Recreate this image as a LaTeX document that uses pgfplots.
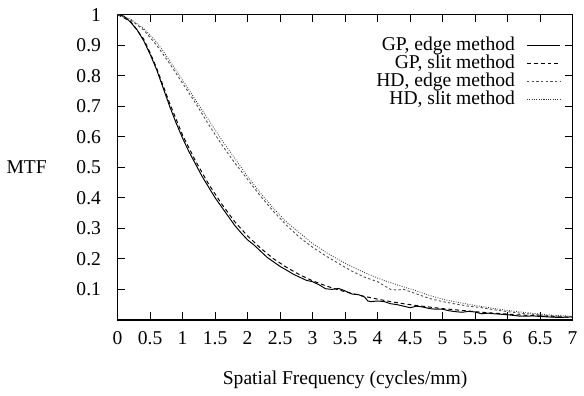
\documentclass[border=0pt]{standalone}
\usepackage{pgfplots}
\pgfplotsset{compat=1.18}
\usepackage{fontspec}
\setmainfont{Liberation Serif}
\begin{document}
\begin{tikzpicture}
\begin{axis}[
  scale only axis, width=232.5pt, height=156pt,
  xmin=0, xmax=7, ymin=0, ymax=1,
  xtick={0,0.5,...,7}, ytick={0.1,0.2,...,1},
  xticklabels={0,0.5,1,1.5,2,2.5,3,3.5,4,4.5,5,5.5,6,6.5,7},
  yticklabels={0.1,0.2,0.3,0.4,0.5,0.6,0.7,0.8,0.9,1},
  tick align=inside, major tick length=4pt,
  tick style={black, line width=0.6pt},
  axis line style={line width=0.7pt},
  /pgf/number format/assume math mode=true,
  font=\fontsize{10}{12}\selectfont,
  xticklabel style={anchor=center, yshift=-9.5pt},
  yticklabel style={anchor=east, xshift=-5pt},
  xlabel={Spatial Frequency (cycles/mm)},
  ylabel={MTF},
  xlabel style={at={(rel axis cs:0.5,0)}, anchor=center, yshift=-30.5pt},
  ylabel style={rotate=-90, at={(rel axis cs:0,0.5)}, anchor=center, xshift=-46.5pt},
  legend plot pos=right,
  legend style={draw=none, fill=none, at={(rel axis cs:0.988,0.945)}, anchor=north east,
    font=\fontsize{10}{12}\selectfont, row sep=-0.6pt, column sep=5.5pt,
    nodes={inner sep=0.4pt, text height=7pt, text depth=2pt}},
  legend cell align=right,
  clip=false,
]
\addplot[black, line width=0.5pt] coordinates {
(0,1) (0.1,0.995) (0.2,0.975) (0.3,0.95) (0.4,0.915) (0.5,0.87) (0.6,0.82) (0.7,0.76) (0.8,0.70) (0.9,0.645) (1.0,0.595) (1.1,0.55) (1.2,0.51) (1.3,0.47) (1.4,0.435) (1.5,0.40) (1.6,0.37) (1.7,0.34) (1.8,0.31) (1.9,0.285) (2.0,0.262) (2.1,0.245) (2.2,0.225) (2.3,0.205) (2.4,0.19) (2.5,0.175) (2.6,0.163) (2.7,0.15) (2.8,0.14) (2.9,0.13) (3.0,0.125) (3.1,0.115) (3.2,0.102) (3.3,0.1) (3.4,0.103) (3.5,0.095) (3.6,0.085) (3.7,0.083) (3.8,0.075) (3.85,0.062) (3.9,0.06) (4.0,0.062) (4.1,0.06) (4.2,0.053) (4.3,0.05) (4.4,0.045) (4.5,0.04) (4.6,0.045) (4.7,0.042) (4.8,0.037) (4.9,0.035) (5.0,0.035) (5.1,0.03) (5.2,0.027) (5.3,0.025) (5.4,0.028) (5.5,0.026) (5.6,0.02) (5.7,0.022) (5.8,0.02) (6.0,0.017) (6.2,0.012) (6.4,0.013) (6.6,0.01) (6.8,0.008) (7.0,0.01)};
\addlegendentry{GP, edge method}
\addplot[black, line width=0.5pt, dash pattern=on 2pt off 1.5pt] coordinates {
(0,1) (0.2,0.978) (0.4,0.92) (0.5,0.875) (0.6,0.825) (0.8,0.71) (1.0,0.605) (1.2,0.52) (1.4,0.445) (1.6,0.38) (1.8,0.322) (2.0,0.275) (2.2,0.235) (2.4,0.2) (2.6,0.172) (2.8,0.148) (3.0,0.128) (3.2,0.112) (3.4,0.098) (3.6,0.087) (3.8,0.077) (4.0,0.068) (4.2,0.06) (4.4,0.053) (4.6,0.047) (4.8,0.042) (5.0,0.037) (5.2,0.033) (5.4,0.029) (5.6,0.025) (5.8,0.022) (6.0,0.019) (6.2,0.016) (6.4,0.014) (6.6,0.012) (6.8,0.01) (7.0,0.009)};
\addlegendentry{GP, slit method}
\addplot[black!70, line width=0.45pt, dash pattern=on 1.2pt off 1.2pt] coordinates {
(0,1) (0.2,0.983) (0.4,0.95) (0.6,0.9) (0.8,0.84) (1.0,0.775) (1.2,0.71) (1.4,0.64) (1.6,0.575) (1.8,0.515) (2.0,0.46) (2.2,0.405) (2.4,0.355) (2.6,0.31) (2.8,0.27) (3.0,0.238) (3.2,0.21) (3.4,0.185) (3.6,0.16) (3.8,0.14) (4.0,0.125) (4.2,0.1) (4.3,0.098) (4.4,0.1) (4.6,0.085) (4.8,0.07) (5.0,0.06) (5.2,0.052) (5.4,0.045) (5.6,0.04) (5.8,0.033) (6.0,0.027) (6.2,0.022) (6.4,0.018) (6.6,0.014) (6.8,0.012) (7.0,0.01)};
\addlegendentry{HD, edge method}
\addplot[black!80, line width=0.45pt, dash pattern=on 0.4pt off 0.8pt] coordinates {
(0,1) (0.2,0.985) (0.4,0.955) (0.6,0.91) (0.8,0.85) (1.0,0.785) (1.2,0.72) (1.4,0.655) (1.6,0.59) (1.8,0.53) (2.0,0.47) (2.2,0.415) (2.4,0.365) (2.6,0.32) (2.8,0.285) (3.0,0.25) (3.2,0.222) (3.4,0.197) (3.6,0.175) (3.8,0.155) (4.0,0.137) (4.2,0.122) (4.4,0.108) (4.6,0.095) (4.8,0.08) (5.0,0.068) (5.2,0.059) (5.4,0.051) (5.6,0.044) (5.8,0.037) (6.0,0.031) (6.2,0.026) (6.4,0.021) (6.6,0.017) (6.8,0.014) (7.0,0.012)};
\addlegendentry{HD, slit method}
\path[draw=none] (axis cs:-1.73,-0.234) rectangle (axis cs:7.06,1.048);
\end{axis}
\end{tikzpicture}
\end{document}
